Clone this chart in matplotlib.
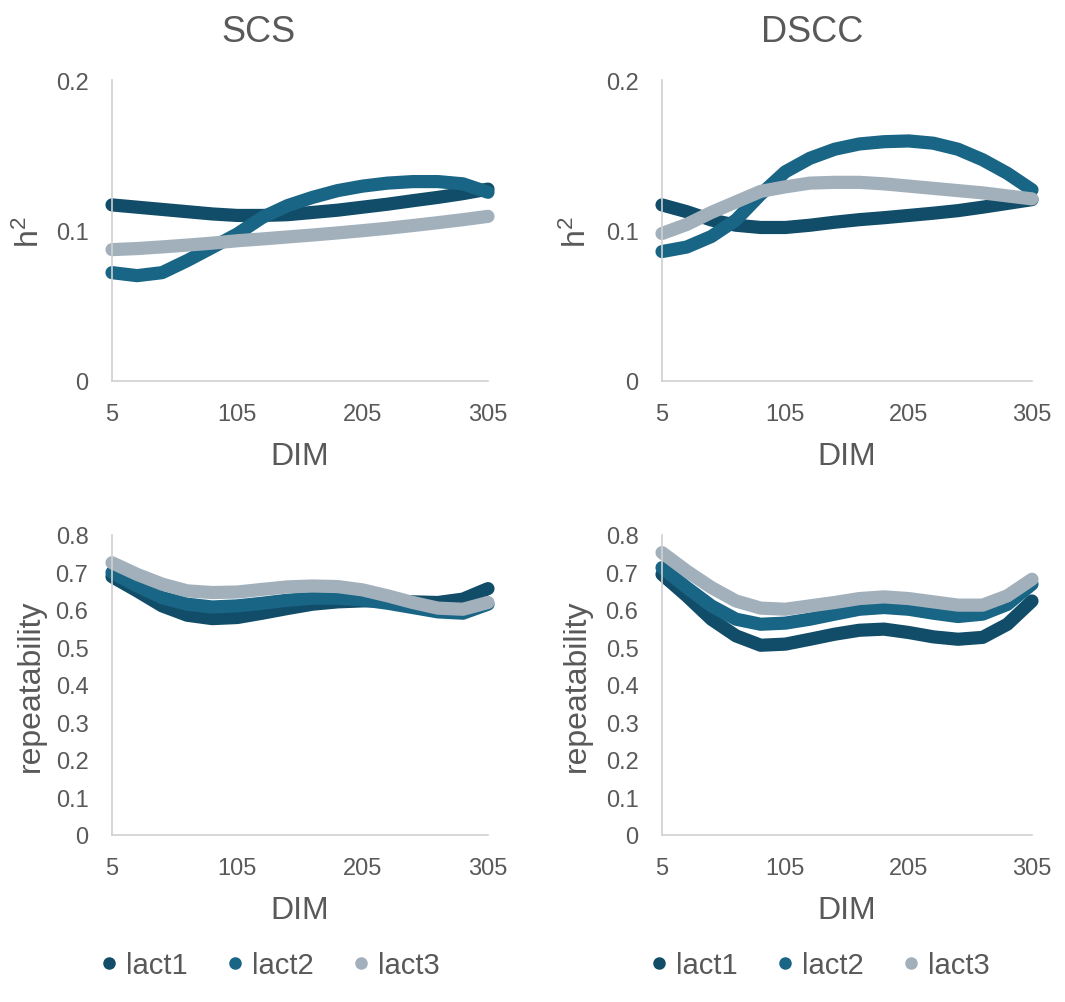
import numpy as np
import matplotlib
matplotlib.use('Agg')
import matplotlib.pyplot as plt
from matplotlib.lines import Line2D

plt.rcParams['font.family'] = ['Liberation Sans', 'DejaVu Sans']
plt.rcParams['mathtext.default'] = 'regular'

# DIM points
dim = [5, 25, 45, 65, 85, 105, 125, 145, 165, 185, 205, 225, 245, 265, 285, 305]
series = ['lact1', 'lact2', 'lact3']

# SCS heritability
scs_h2_lact1 = [0.117, 0.1155, 0.114, 0.1125, 0.111, 0.110, 0.110, 0.1105, 0.112, 0.1135, 0.1155, 0.1175, 0.1198, 0.122, 0.1245, 0.1275]
scs_h2_lact2 = [0.072, 0.070, 0.072, 0.080, 0.0888, 0.0977, 0.1087, 0.1165, 0.122, 0.1265, 0.1295, 0.1315, 0.1325, 0.1325, 0.131, 0.1254]
scs_h2_lact3 = [0.0873, 0.088, 0.0891, 0.0903, 0.0916, 0.0932, 0.0944, 0.0957, 0.097, 0.0984, 0.0999, 0.1015, 0.1033, 0.1052, 0.1072, 0.1094]

# DSCC heritability
dscc_h2_lact1 = [0.117, 0.1125, 0.107, 0.1035, 0.102, 0.102, 0.1035, 0.1055, 0.1072, 0.1085, 0.110, 0.1115, 0.1132, 0.1155, 0.118, 0.1205]
dscc_h2_lact2 = [0.086, 0.089, 0.096, 0.107, 0.124, 0.139, 0.148, 0.154, 0.1575, 0.159, 0.1595, 0.158, 0.154, 0.147, 0.138, 0.127]
dscc_h2_lact3 = [0.098, 0.104, 0.112, 0.119, 0.126, 0.129, 0.1315, 0.132, 0.132, 0.131, 0.1295, 0.128, 0.1265, 0.125, 0.123, 0.121]

# SCS repeatability
scs_rep_lact1 = [0.689, 0.651, 0.611, 0.586, 0.577, 0.580, 0.5915, 0.604, 0.6155, 0.6217, 0.6243, 0.6243, 0.6217, 0.620, 0.629, 0.657]
scs_rep_lact2 = [0.700, 0.664, 0.633, 0.6155, 0.608, 0.611, 0.618, 0.626, 0.6314, 0.6314, 0.627, 0.618, 0.6066, 0.595, 0.5915, 0.6155]
scs_rep_lact3 = [0.726, 0.695, 0.669, 0.651, 0.6465, 0.648, 0.655, 0.6616, 0.664, 0.6625, 0.6536, 0.6377, 0.620, 0.605, 0.602, 0.620]

# DSCC repeatability
dscc_rep_lact1 = [0.695, 0.6377, 0.5755, 0.531, 0.506, 0.509, 0.522, 0.5355, 0.546, 0.549, 0.540, 0.5284, 0.522, 0.527, 0.562, 0.624]
dscc_rep_lact2 = [0.713, 0.660, 0.611, 0.5755, 0.562, 0.565, 0.5755, 0.589, 0.602, 0.6066, 0.602, 0.5915, 0.5826, 0.589, 0.615, 0.669]
dscc_rep_lact3 = [0.753, 0.704, 0.660, 0.624, 0.605, 0.602, 0.611, 0.620, 0.6305, 0.635, 0.6305, 0.6217, 0.613, 0.613, 0.6377, 0.682]

colors = ['#114d68', '#196585', '#a2b0bc']
grey = '#595959'

W, H = 1065, 1003
fig = plt.figure(figsize=(W / 100, H / 100), dpi=100)


def px_axes(left, top, right, bottom):
    return fig.add_axes([left / W, 1 - bottom / H, (right - left) / W, (bottom - top) / H])


def style(ax, ymax, ystep, yfmt):
    ax.set_xlim(5, 305)
    ax.set_ylim(0, ymax)
    ax.set_xticks([5, 105, 205, 305])
    yt = np.round(np.arange(0, ymax + ystep / 2, ystep), 2)
    ax.set_yticks(yt)
    ax.set_yticklabels(['0' if v == 0 else yfmt % v for v in yt])
    for s in ['top', 'right']:
        ax.spines[s].set_visible(False)
    for s in ['left', 'bottom']:
        ax.spines[s].set_color('#d0d0d0')
        ax.spines[s].set_linewidth(1.2)
    ax.tick_params(axis='both', length=0, labelsize=17, labelcolor=grey)
    ax.tick_params(axis='x', pad=16)
    ax.tick_params(axis='y', pad=17)


panels = [
    ((112, 81, 488, 382), [scs_h2_lact1, scs_h2_lact2, scs_h2_lact3], 0.2, 0.1),
    ((662, 81, 1032, 382), [dscc_h2_lact1, dscc_h2_lact2, dscc_h2_lact3], 0.2, 0.1),
    ((112, 536, 488, 836), [scs_rep_lact1, scs_rep_lact2, scs_rep_lact3], 0.8, 0.1),
    ((662, 536, 1032, 836), [dscc_rep_lact1, dscc_rep_lact2, dscc_rep_lact3], 0.8, 0.1),
]

for box, data, ymax, ystep in panels:
    ax = px_axes(*box)
    style(ax, ymax, ystep, '%.1f')
    for vals, c in zip(data, colors):
        ax.plot(dim, vals, color=c, lw=9.5, solid_capstyle='round', solid_joinstyle='round', clip_on=False)

# titles
fig.text(258 / W, 1 - 33 / H, 'SCS', ha='center', va='center', fontsize=26, color=grey)
fig.text(812 / W, 1 - 33 / H, 'DSCC', ha='center', va='center', fontsize=26, color=grey)

# axis titles
for cx in [300, 847]:
    fig.text(cx / W, 1 - 457 / H, 'DIM', ha='center', va='center', fontsize=23, color=grey)
    fig.text(cx / W, 1 - 911 / H, 'DIM', ha='center', va='center', fontsize=23, color=grey)
fig.text(30 / W, 1 - 232 / H, 'h$^2$', ha='center', va='center', rotation=90, fontsize=23, color=grey)
fig.text(577 / W, 1 - 232 / H, 'h$^2$', ha='center', va='center', rotation=90, fontsize=23, color=grey)
fig.text(31 / W, 1 - 686 / H, 'repeatability', ha='center', va='center', rotation=90, fontsize=23, color=grey)
fig.text(577 / W, 1 - 686 / H, 'repeatability', ha='center', va='center', rotation=90, fontsize=23, color=grey)

# legends
handles = [Line2D([], [], ls='none', marker='o', ms=8, color=c) for c in colors]
for cx in [270, 820]:
    fig.legend(handles, series, loc='center', bbox_to_anchor=(cx / W, 1 - 966 / H), ncol=3,
               frameon=False, fontsize=21, labelcolor=grey, handlelength=0.6,
               handletextpad=0.3, columnspacing=1.3)

fig.savefig('out.png', dpi=100)
